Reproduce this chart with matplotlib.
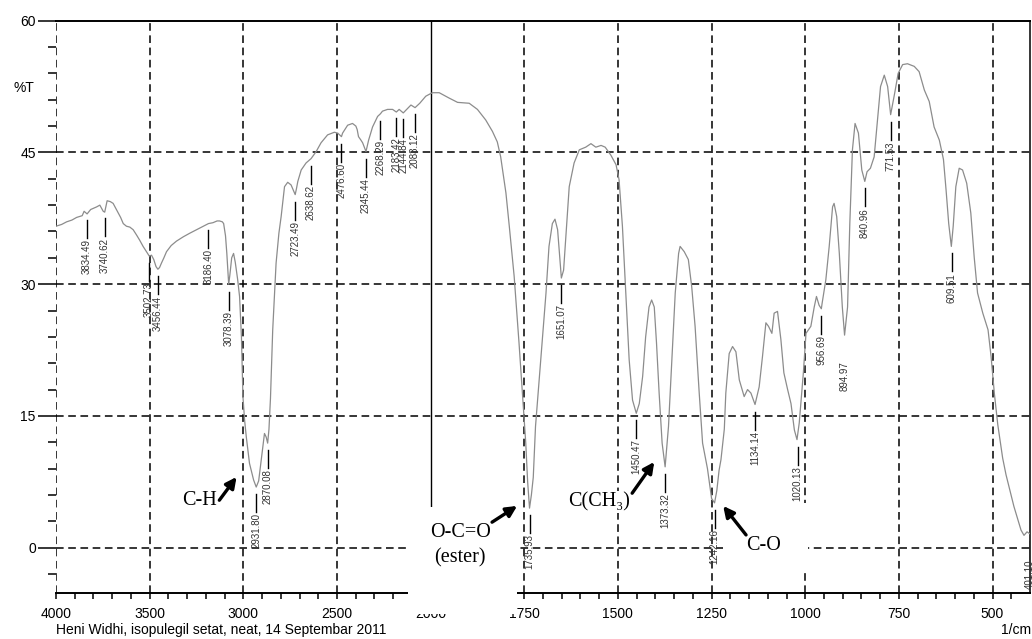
import numpy as np
import matplotlib
matplotlib.use("Agg")
import matplotlib.pyplot as plt
from matplotlib import font_manager
from matplotlib.patches import Rectangle, FancyArrowPatch

# spectrum (wavenumber 1/cm, %T)
wn = [4000, 3970, 3943, 3915, 3890, 3860, 3850, 3834, 3815, 3783, 3766, 3748, 3740,
      3727, 3710, 3695, 3680, 3668, 3655, 3641, 3624, 3606, 3588, 3570, 3553, 3535,
      3517, 3502, 3490, 3478, 3466, 3456, 3447, 3437, 3424, 3410, 3385, 3357, 3320,
      3286, 3250, 3215, 3186, 3162, 3140, 3127, 3112, 3105, 3095, 3088, 3082, 3078,
      3072, 3062, 3052, 3043, 3030, 3020, 3010, 3002, 2993, 2984, 2967, 2945, 2931,
      2918, 2904, 2887, 2878, 2870, 2863, 2855, 2843, 2825, 2810, 2798, 2780, 2763,
      2745, 2735, 2723, 2716, 2709, 2691, 2665, 2638, 2611, 2585, 2550, 2514, 2496,
      2476, 2470, 2443, 2417, 2399, 2392, 2385, 2372, 2363, 2345, 2331, 2310, 2283,
      2268, 2257, 2230, 2203, 2183, 2168, 2146, 2123, 2105, 2083, 2058, 2026, 2000,
      1995, 1977, 1951, 1928, 1897, 1875, 1853, 1835, 1822, 1813, 1799, 1790, 1777,
      1764, 1755, 1746, 1741, 1736, 1731, 1726, 1720, 1706, 1692, 1684, 1675, 1668,
      1661, 1655, 1651, 1645, 1637, 1630, 1617, 1603, 1586, 1572, 1559, 1545, 1534,
      1519, 1505, 1497, 1488, 1479, 1470, 1461, 1451, 1443, 1434, 1426, 1417, 1410,
      1403, 1397, 1390, 1382, 1374, 1365, 1356, 1347, 1338, 1334, 1323, 1312, 1303,
      1294, 1283, 1274, 1261, 1250, 1242, 1236, 1230, 1225, 1216, 1212, 1203, 1194,
      1185, 1176, 1163, 1154, 1145, 1134, 1123, 1114, 1105, 1098, 1089, 1083, 1074,
      1065, 1057, 1047, 1038, 1029, 1022, 1016, 1005, 998, 985, 976, 970, 963, 957,
      955, 945, 936, 927, 923, 916, 909, 901, 895, 887, 881, 874, 867, 858, 849, 841,
      835, 826, 816, 808, 799, 789, 780, 772, 761, 752, 740, 727, 709, 696, 682, 669,
      656, 642, 631, 624, 617, 610, 605, 598, 589, 580, 569, 558, 549, 540, 526, 512,
      504, 495, 486, 473, 464, 443, 424, 416, 408, 401]
trans = [36.6, 36.8, 37.1, 37.3, 37.6, 37.8, 38.3, 38.0, 38.5, 38.8, 39.0, 38.3, 38.2,
         39.5, 39.4, 39.2, 38.6, 38.1, 37.6, 36.9, 36.6, 36.5, 36.2, 35.6, 35.0, 34.3,
         33.7, 33.2, 33.3, 32.8, 32.0, 31.7, 31.9, 32.4, 33.0, 33.7, 34.4, 34.9, 35.4,
         35.8, 36.2, 36.6, 36.9, 37.0, 37.2, 37.2, 37.1, 36.9, 35.5, 33.5, 31.5, 30.0,
         31.0, 33.0, 33.5, 32.5, 30.5, 28.6, 24.0, 17.2, 14.5, 12.6, 9.6, 7.7, 6.9,
         7.6, 10.0, 13.0, 12.6, 11.9, 13.5, 17.0, 24.8, 32.4, 35.8, 37.7, 41.1, 41.6,
         41.3, 40.8, 40.2, 40.9, 41.7, 43.0, 43.8, 44.3, 45.1, 46.1, 47.0, 47.3, 47.2,
         46.8, 47.2, 48.1, 48.3, 48.0, 47.6, 46.8, 46.4, 46.1, 45.1, 46.4, 47.9, 49.1,
         49.4, 49.7, 49.9, 49.9, 49.6, 49.9, 49.5, 50.0, 50.4, 50.1, 50.6, 51.4, 51.7,
         51.8, 51.8, 51.2, 50.7, 50.6, 49.9, 48.7, 47.4, 46.2, 44.5, 40.4, 36.6, 30.9,
         23.3, 17.6, 11.9, 7.5, 4.5, 6.0, 8.0, 13.8, 21.4, 29.0, 34.3, 36.9, 37.4,
         36.2, 32.8, 30.7, 31.6, 36.6, 41.1, 43.8, 45.3, 45.6, 46.0, 45.6, 45.8, 45.6,
         44.7, 43.6, 41.9, 36.6, 29.0, 21.4, 16.8, 15.3, 16.4, 19.5, 24.0, 27.4, 28.2,
         27.4, 23.3, 17.6, 11.9, 9.2, 13.8, 21.4, 29.0, 33.5, 34.3, 33.7, 32.8, 29.7,
         25.2, 17.6, 11.9, 9.0, 5.6, 5.1, 6.5, 8.8, 10.0, 13.5, 17.6, 22.1, 22.9,
         22.3, 19.1, 17.2, 18.0, 17.6, 16.3, 18.3, 21.8, 25.6, 25.2, 24.4, 26.7, 26.9,
         23.7, 19.9, 18.0, 16.4, 13.4, 12.3, 14.2, 19.9, 24.4, 25.2, 27.4, 28.6, 27.6, 27.2,
         27.8, 30.5, 34.3, 38.8, 39.2, 37.7, 33.5, 27.4, 24.2, 27.4, 36.9, 45.3, 48.3, 47.2, 43.0, 41.7,
         42.8, 43.2, 44.5, 48.3, 52.5, 53.8, 52.5, 49.3, 51.8, 54.0, 55.0, 55.1, 54.8, 54.2, 52.1, 50.8,
         47.9, 46.4, 44.2, 40.7, 36.9, 34.3, 36.6, 41.1, 43.2, 43.0, 41.5, 38.1, 33.1, 29.0, 26.7, 24.8,
         21.8, 17.5, 14.0, 10.2, 8.3, 4.7, 2.0, 1.4, 1.8, 1.6]

# peak table
peak_wn = [3834.49, 3740.62, 3502.73, 3456.44, 3186.40, 3078.39, 2931.80, 2870.08,
           2723.49, 2638.62, 2476.60, 2345.44, 2268.29, 2183.42, 2144.84, 2083.12,
           1735.93, 1651.07, 1450.47, 1373.32, 1242.16, 1134.14, 1020.13, 956.69,
           894.97, 840.96, 771.53, 609.51, 401.10]
peak_T = [38.1, 38.3, 33.2, 31.7, 37.0, 29.9, 6.9, 11.9,
          40.2, 44.3, 46.8, 45.1, 49.4, 49.7, 49.6, 50.2,
          4.5, 30.7, 15.3, 9.2, 5.1, 16.3, 12.3, 27.2,
          24.2, 41.7, 49.3, 34.3, 1.6]
no_stem = [894.97]

x_major = [4000, 3500, 3000, 2500, 2000, 1750, 1500, 1250, 1000, 750, 500]
x_minor_hi = list(range(3900, 2000, -100))
x_minor_lo = list(range(1950, 400, -50))
y_major = [0, 15, 30, 45, 60]
y_minor = [-3] + [v for v in range(3, 60, 3) if v % 15]

caption = "Heni Widhi, isopulegil setat, neat, 14 Septembar 2011"

# group name, text position, arrow tail, arrow tip (data coords)
groups = [
    ("C-H", (3236, 5.4), (3128, 5.4), (3036, 8.05)),
    ("O-C=O\n(ester)", (1921, 0.3), (1836, 2.9), (1769, 4.75)),
    ("C(CH\u2083)", (1550, 5.2), (1462, 6.2), (1403, 9.76)),
    ("C-O", (1110, 0.3), (1158, 1.45), (1219, 4.75)),
]

names = {f.name for f in font_manager.fontManager.ttflist}
if "Liberation Sans Narrow" in names:
    sans, tsize = "Liberation Sans Narrow", 11.5
else:
    sans, tsize = "Liberation Sans", 10
plt.rcParams["font.family"] = [sans, "DejaVu Sans"]


def fwd(w):
    w = np.asarray(w, dtype=float)
    return np.where(w >= 2000, w, 2 * w - 2000)


def inv(u):
    u = np.asarray(u, dtype=float)
    return np.where(u >= 2000, u, (u + 2000) / 2)


W, H = 1032, 639
fig = plt.figure(figsize=(W / 100, H / 100), dpi=100)
ax = fig.add_axes([56 / W, 46.3 / H, 974 / W, 572 / H])
ax.set_xscale("function", functions=(fwd, inv))
ax.set_xlim(4000, 400)
ax.set_ylim(-5.13, 60)

ax.plot(wn, trans, color="#8c8c8c", lw=0.9, zorder=3)

# grid
for x in x_major:
    if x == 2000:
        ax.axvline(x, color="black", lw=1.0, zorder=1)
    else:
        ax.axvline(x, color="black", lw=1.1, ls=(0, (5, 3)), zorder=1)
for y in y_major[:-1]:
    ax.axhline(y, color="black", lw=1.1, ls=(0, (5, 3)), zorder=1)

ax.spines["left"].set_visible(False)
for s in ["top", "bottom", "right"]:
    ax.spines[s].set_linewidth(1.4)
ax.spines["right"].set_linewidth(1.1)

ax.set_xticks(x_major)
ax.set_xticklabels([str(v) for v in x_major], fontsize=tsize)
ax.set_xticks(x_minor_hi + x_minor_lo, minor=True)
ax.set_yticks(y_major)
ax.set_yticklabels([str(v) for v in y_major], fontsize=tsize)
ax.set_yticks(y_minor, minor=True)
ax.tick_params(axis="x", which="both", direction="out", length=4.3, width=1.1, pad=6)
ax.tick_params(axis="y", which="major", direction="out", length=13, width=1.1, pad=1.5)
ax.tick_params(axis="y", which="minor", direction="out", length=5.8, width=1.1)

# peak marks
for w, t in zip(peak_wn, peak_T):
    top = t - 0.8
    bot = top - 2.05
    if w not in no_stem:
        ax.plot([w, w], [top, bot], color="black", lw=1.0, zorder=4)
    ax.text(w, bot - 0.15, f"{w:.2f}", rotation=90, ha="center", va="top",
            fontsize=7.0, color="#333333", family=["Liberation Sans", "DejaVu Sans"],
            zorder=4, clip_on=False)

# white text boxes laid over the plot (pixel boxes)
for x0, y0, x1, y1 in [(408, 507, 517, 614), (723, 503, 808, 572)]:
    fig.add_artist(Rectangle((x0 / W, 1 - y1 / H), (x1 - x0) / W, (y1 - y0) / H,
                             transform=fig.transFigure, fc="white", ec="none", zorder=2))

for label, txt, tail, tip in groups:
    fig.text(txt[0], txt[1], label, transform=ax.transData, ha="center", va="center",
             fontsize=14.5, family=["Liberation Serif", "DejaVu Serif"], linespacing=1.4,
             zorder=4, bbox=dict(fc="white", ec="none", pad=1))
    fig.add_artist(FancyArrowPatch(tail, tip, transform=ax.transData, arrowstyle="-|>",
                                   mutation_scale=16, lw=2.4, color="black", zorder=5,
                                   shrinkA=0, shrinkB=0))

fig.text(24 / W, 1 - 87.5 / H, "%T", ha="center", va="center", fontsize=tsize)
fig.text(56 / W, 1 - 630 / H, caption, ha="left", va="center", fontsize=tsize)
fig.text(1031 / W, 1 - 630 / H, "1/cm", ha="right", va="center", fontsize=tsize)

fig.savefig("out.png", dpi=100)
